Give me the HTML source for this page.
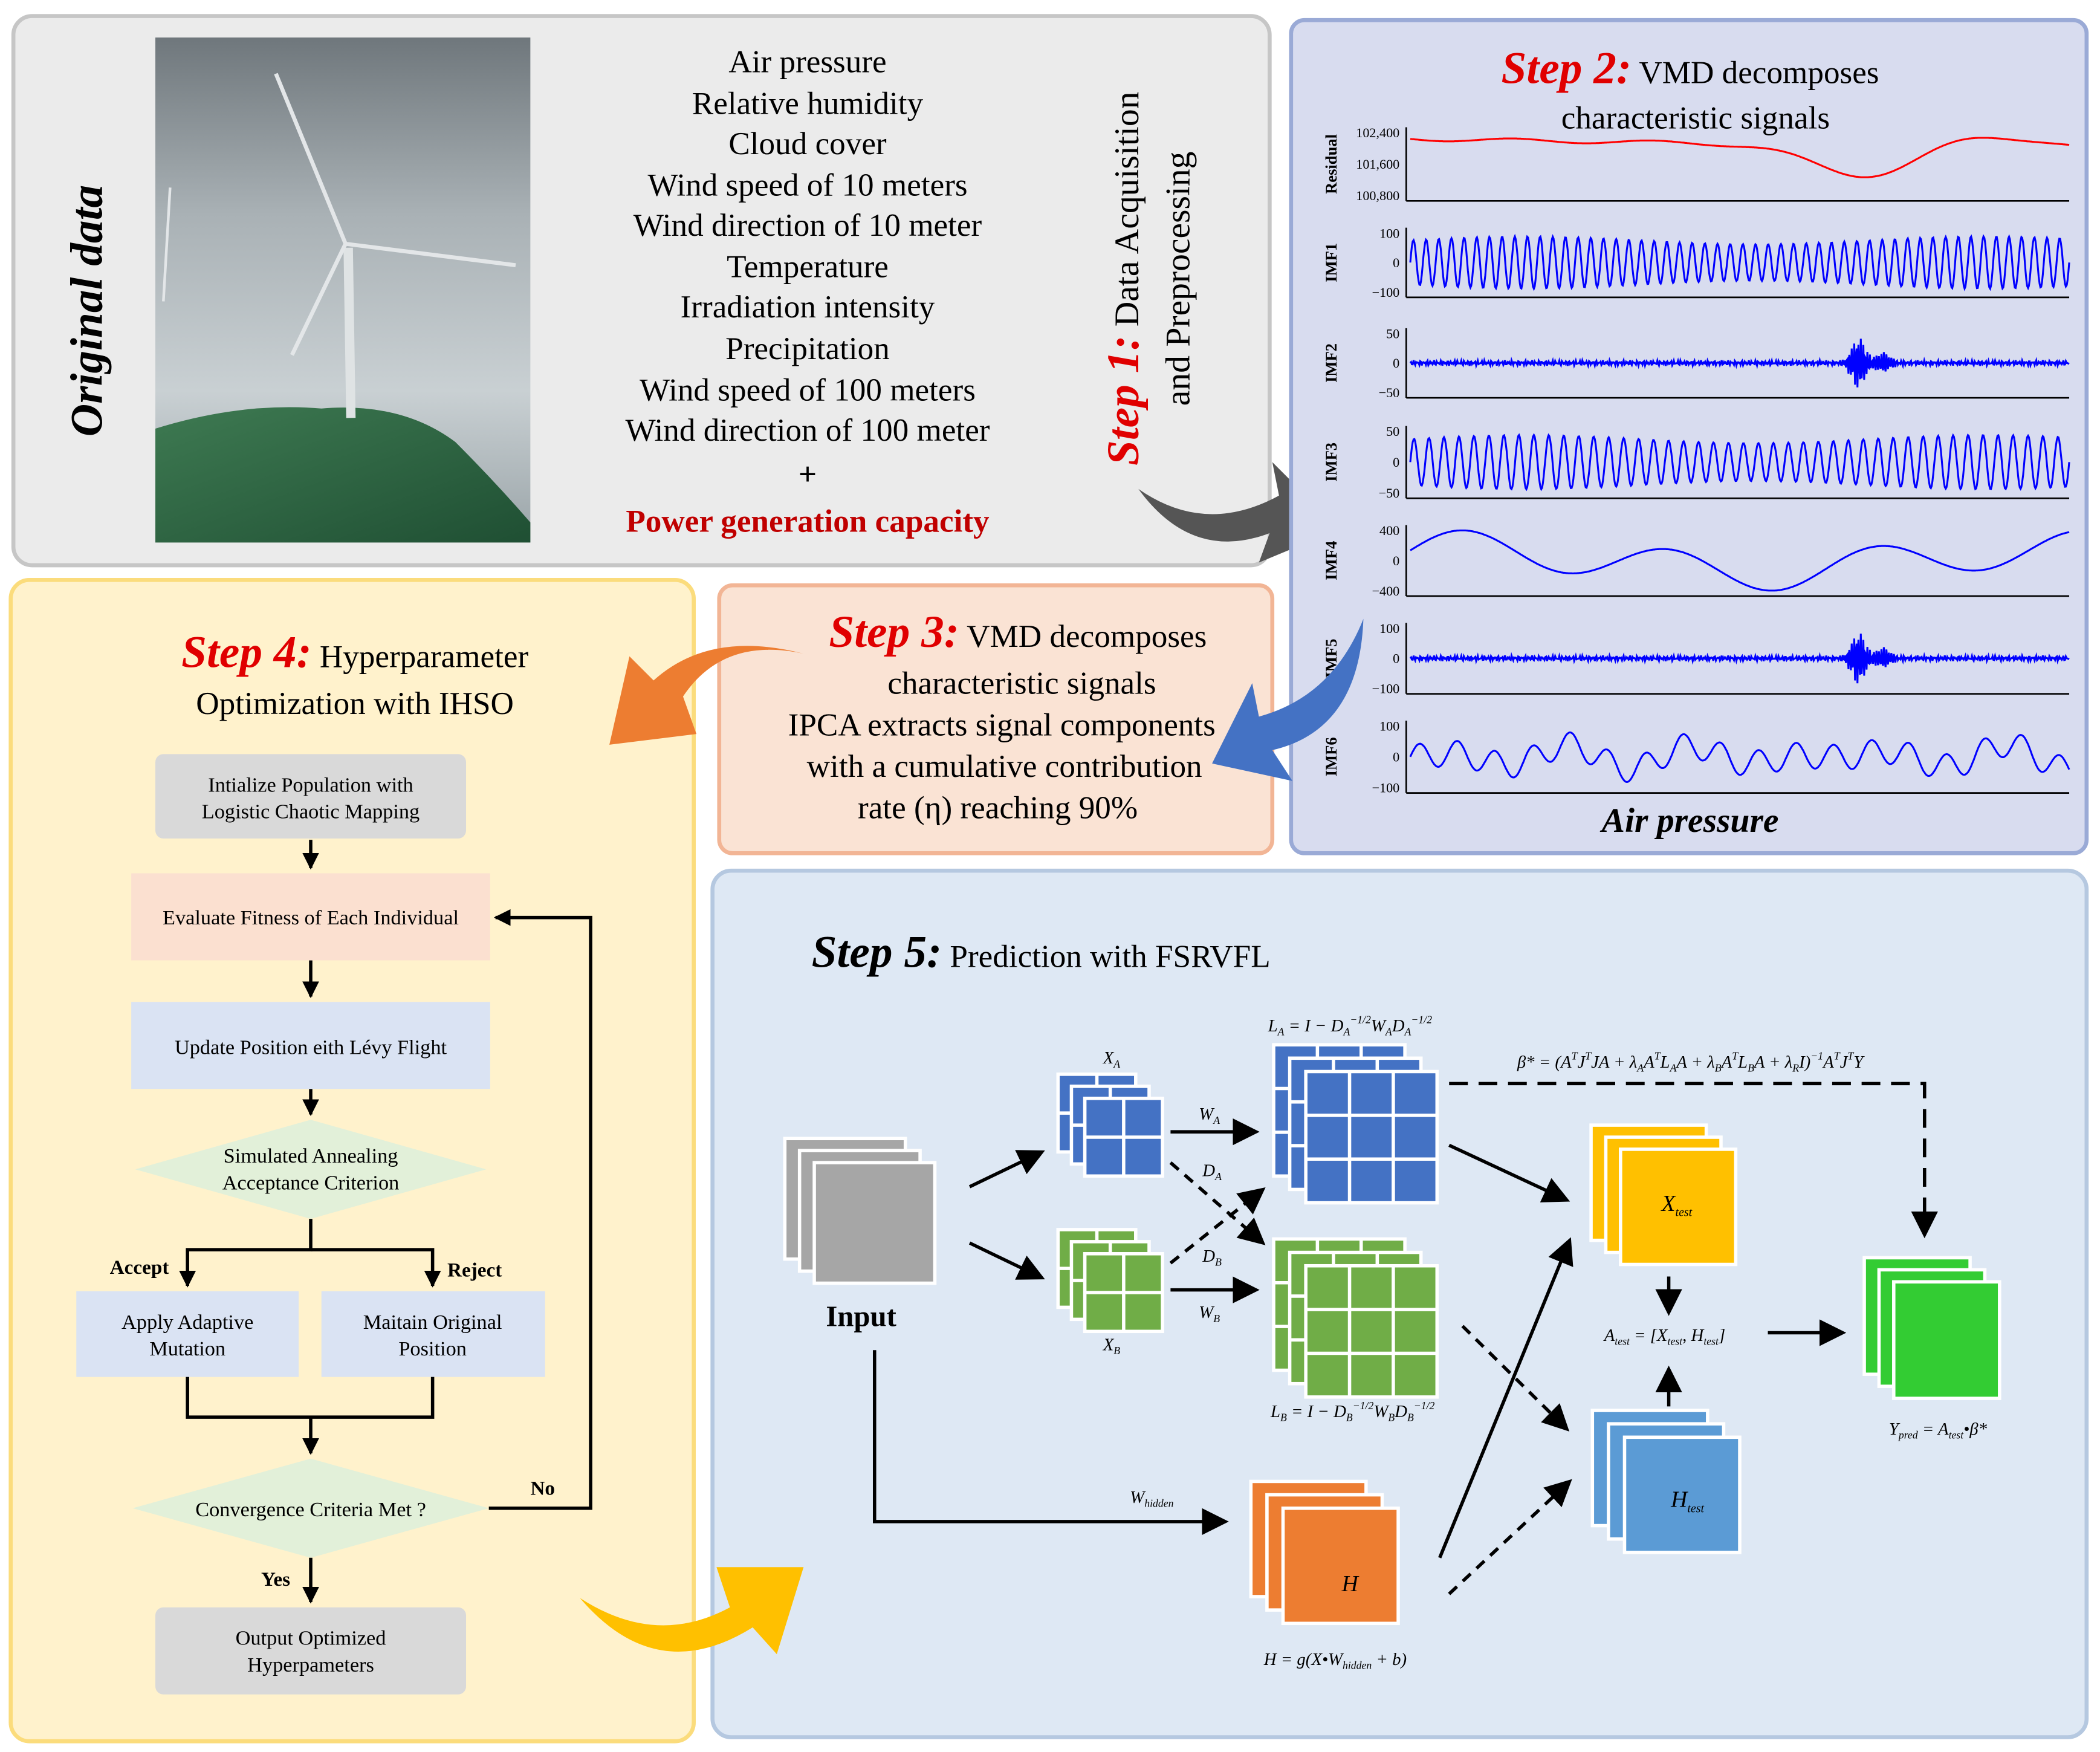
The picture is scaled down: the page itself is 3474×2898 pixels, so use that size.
<!DOCTYPE html>
<html><head><meta charset="utf-8"><style>
html,body{margin:0;padding:0;background:#fff}
svg{display:block}
text{font-family:"Liberation Serif",serif}
</style></head><body>
<svg id="s" xmlns="http://www.w3.org/2000/svg" width="3474" height="2898" viewBox="0 0 1568 1308">
<defs>
<marker id="ah" markerWidth="8" markerHeight="8" refX="7" refY="4" orient="auto" markerUnits="strokeWidth"><path d="M0,0 L8,4 L0,8 z" fill="#000"/></marker>
<marker id="ah2" markerWidth="5" markerHeight="5" refX="4.5" refY="2.5" orient="auto" markerUnits="strokeWidth"><path d="M0,0 L5,2.5 L0,5 z" fill="#000"/></marker>
<linearGradient id="sky" x1="0" y1="0" x2="0" y2="1"><stop offset="0" stop-color="#6f777c"/><stop offset="0.35" stop-color="#a9b1b5"/><stop offset="0.7" stop-color="#c9d0d3"/><stop offset="1" stop-color="#9aa4a8"/></linearGradient>
<linearGradient id="hill" x1="0" y1="0" x2="1" y2="1"><stop offset="0" stop-color="#3e7a52"/><stop offset="1" stop-color="#1f4f33"/></linearGradient>
</defs>
<rect x="10" y="12" width="938" height="410" rx="14" fill="#ebebeb" stroke="#c6c6c6" stroke-width="3"/>
<rect x="116" y="28" width="280" height="377" fill="url(#sky)"/>
<path d="M116,320 Q180,300 240,305 Q300,300 340,330 Q370,360 396,390 L396,405 L116,405 Z" fill="url(#hill)"/>
<line x1="260" y1="185" x2="262" y2="312" stroke="#dfe3e4" stroke-width="7"/>
<line x1="258" y1="182" x2="206" y2="55" stroke="#e3e6e8" stroke-width="3"/>
<line x1="258" y1="182" x2="385" y2="198" stroke="#e3e6e8" stroke-width="3"/>
<line x1="258" y1="182" x2="218" y2="265" stroke="#e3e6e8" stroke-width="3"/>
<line x1="127" y1="140" x2="122" y2="225" stroke="#e3e6e8" stroke-width="2"/>
<text transform="translate(76,232) rotate(-90)" text-anchor="middle" font-size="34" font-style="italic" font-weight="bold">Original data</text>
<g font-size="24" text-anchor="middle">
<text x="603" y="54">Air pressure</text>
<text x="603" y="85">Relative humidity</text>
<text x="603" y="115">Cloud cover</text>
<text x="603" y="146">Wind speed of 10 meters</text>
<text x="603" y="176">Wind direction of 10 meter</text>
<text x="603" y="207">Temperature</text>
<text x="603" y="237">Irradiation intensity</text>
<text x="603" y="268">Precipitation</text>
<text x="603" y="299">Wind speed of 100 meters</text>
<text x="603" y="329">Wind direction of 100 meter</text>
<text x="603" y="362" font-weight="bold">+</text>
<text x="603" y="397" font-weight="bold" fill="#c00000">Power generation capacity</text>
</g>
<text transform="translate(850,208) rotate(-90)" text-anchor="middle" font-size="26"><tspan font-size="34" font-style="italic" font-weight="bold" fill="#e00000">Step 1:</tspan> Data Acquisition</text>
<text transform="translate(888,208) rotate(-90)" text-anchor="middle" font-size="26">and Preprocessing</text>
<path d="M850,365 Q900,400 955,370 L950,345 L1000,395 L940,420 L948,398 Q890,420 850,365 Z" fill="#555"/>
<rect x="964" y="15" width="594" height="622" rx="10" fill="#d8dcef" stroke="#9aaad6" stroke-width="3"/>
<text x="1262" y="62" text-anchor="middle" font-size="24"><tspan font-size="34" font-style="italic" font-weight="bold" fill="#e00000">Step 2:</tspan> VMD decomposes</text>
<text x="1266" y="96" text-anchor="middle" font-size="24">characteristic signals</text>
<g id="charts"></g>
<text x="1262" y="621" text-anchor="middle" font-size="26" font-style="italic" font-weight="bold">Air pressure</text>
<rect x="537" y="437" width="413" height="200" rx="10" fill="#fae3d4" stroke="#f2b595" stroke-width="3"/>
<text x="760" y="483" text-anchor="middle" font-size="24"><tspan font-size="34" font-style="italic" font-weight="bold" fill="#e00000">Step 3:</tspan> VMD decomposes</text>
<g font-size="24" text-anchor="middle">
<text x="763" y="518">characteristic signals</text>
<text x="748" y="549">IPCA extracts signal components</text>
<text x="750" y="580">with a cumulative contribution</text>
<text x="745" y="611">rate (η) reaching 90%</text>
</g>
<rect x="8" y="433" width="510" height="867" rx="14" fill="#fff2cc" stroke="#fbdc7c" stroke-width="3"/>
<text x="265" y="498" text-anchor="middle" font-size="24"><tspan font-size="34" font-style="italic" font-weight="bold" fill="#e00000">Step 4:</tspan> Hyperparameter</text>
<text x="265" y="533" text-anchor="middle" font-size="24">Optimization with IHSO</text>
<g font-size="15.5" text-anchor="middle">
<rect x="116" y="563" width="232" height="63" rx="6" fill="#d9d9d9"/>
<text x="232" y="591">Intialize Population with</text><text x="232" y="611">Logistic Chaotic Mapping</text>
<rect x="98" y="652" width="268" height="65" fill="#fbe0d0"/>
<text x="232" y="690">Evaluate Fitness of Each Individual</text>
<rect x="98" y="748" width="268" height="65" fill="#dae3f3"/>
<text x="232" y="787">Update Position eith Lévy Flight</text>
<polygon points="232,836 363,873 232,910 101,873" fill="#e2f0d9"/>
<text x="232" y="868">Simulated Annealing</text><text x="232" y="888">Acceptance Criterion</text>
<rect x="57" y="964" width="166" height="64" fill="#dae3f3"/>
<text x="140" y="992">Apply Adaptive</text><text x="140" y="1012">Mutation</text>
<rect x="240" y="964" width="167" height="64" fill="#dae3f3"/>
<text x="323" y="992">Maitain Original</text><text x="323" y="1012">Position</text>
<polygon points="232,1089 365,1126 232,1163 99,1126" fill="#e2f0d9"/>
<text x="232" y="1132">Convergence Criteria Met ?</text>
<rect x="116" y="1200" width="232" height="65" rx="6" fill="#d9d9d9"/>
<text x="232" y="1228">Output Optimized</text><text x="232" y="1248">Hyperpameters</text>
</g>
<g stroke="#000" stroke-width="2.5" fill="none">
<line x1="232" y1="627" x2="232" y2="648" marker-end="url(#ah2)"/>
<line x1="232" y1="717" x2="232" y2="744" marker-end="url(#ah2)"/>
<line x1="232" y1="813" x2="232" y2="832" marker-end="url(#ah2)"/>
<polyline points="232,910 232,933 140,933 140,960" marker-end="url(#ah2)"/>
<polyline points="232,933 323,933 323,960" marker-end="url(#ah2)"/>
<polyline points="140,1028 140,1058 323,1058 323,1028"/>
<line x1="232" y1="1058" x2="232" y2="1085" marker-end="url(#ah2)"/>
<line x1="232" y1="1163" x2="232" y2="1196" marker-end="url(#ah2)"/>
<polyline points="365,1126 441,1126 441,685 370,685" marker-end="url(#ah2)"/>
</g>
<g font-size="15" font-weight="bold">
<text x="82" y="951">Accept</text><text x="334" y="953">Reject</text>
<text x="396" y="1116">No</text><text x="195" y="1184">Yes</text>
</g>
<rect x="532" y="650" width="1026" height="647" rx="14" fill="#dee8f4" stroke="#b5c8e0" stroke-width="3"/>
<text x="606" y="722" font-size="24"><tspan font-size="34" font-style="italic" font-weight="bold">Step 5:</tspan> Prediction with FSRVFL</text>
<g id="stacks"></g>
<text x="643" y="990" text-anchor="middle" font-size="22" font-weight="bold">Input</text>
<g font-size="13" font-style="italic" text-anchor="middle">
<text x="830" y="794">X<tspan font-size="8" dy="3">A</tspan></text>
<text x="830" y="1008">X<tspan font-size="8" dy="3">B</tspan></text>
<text x="903" y="836">W<tspan font-size="8" dy="3">A</tspan></text>
<text x="905" y="878">D<tspan font-size="8" dy="3">A</tspan></text>
<text x="905" y="942">D<tspan font-size="8" dy="3">B</tspan></text>
<text x="903" y="984">W<tspan font-size="8" dy="3">B</tspan></text>
<text x="1008" y="770">L<tspan font-size="8" dy="3">A</tspan><tspan dy="-3"> = I − D</tspan><tspan font-size="8" dy="3">A</tspan><tspan font-size="8" dy="-9">−1/2</tspan><tspan dy="6">W</tspan><tspan font-size="8" dy="3">A</tspan><tspan dy="-3">D</tspan><tspan font-size="8" dy="3">A</tspan><tspan font-size="8" dy="-9">−1/2</tspan></text>
<text x="1010" y="1058">L<tspan font-size="8" dy="3">B</tspan><tspan dy="-3"> = I − D</tspan><tspan font-size="8" dy="3">B</tspan><tspan font-size="8" dy="-9">−1/2</tspan><tspan dy="6">W</tspan><tspan font-size="8" dy="3">B</tspan><tspan dy="-3">D</tspan><tspan font-size="8" dy="3">B</tspan><tspan font-size="8" dy="-9">−1/2</tspan></text>
<text x="1262" y="797">β* = (A<tspan font-size="8" dy="-6">T</tspan><tspan dy="6">J</tspan><tspan font-size="8" dy="-6">T</tspan><tspan dy="6">JA + λ</tspan><tspan font-size="8" dy="3">A</tspan><tspan dy="-3">A</tspan><tspan font-size="8" dy="-6">T</tspan><tspan dy="6">L</tspan><tspan font-size="8" dy="3">A</tspan><tspan dy="-3">A + λ</tspan><tspan font-size="8" dy="3">B</tspan><tspan dy="-3">A</tspan><tspan font-size="8" dy="-6">T</tspan><tspan dy="6">L</tspan><tspan font-size="8" dy="3">B</tspan><tspan dy="-3">A + λ</tspan><tspan font-size="8" dy="3">R</tspan><tspan dy="-3">I)</tspan><tspan font-size="8" dy="-6">−1</tspan><tspan dy="6">A</tspan><tspan font-size="8" dy="-6">T</tspan><tspan dy="6">J</tspan><tspan font-size="8" dy="-6">T</tspan><tspan dy="6">Y</tspan></text>
<text x="1243" y="1001">A<tspan font-size="8" dy="3">test</tspan><tspan dy="-3"> = [X</tspan><tspan font-size="8" dy="3">test</tspan><tspan dy="-3">, H</tspan><tspan font-size="8" dy="3">test</tspan><tspan dy="-3">]</tspan></text>
<text x="1447" y="1071">Y<tspan font-size="8" dy="3">pred</tspan><tspan dy="-3"> = A</tspan><tspan font-size="8" dy="3">test</tspan><tspan dy="-3">•β*</tspan></text>
<text x="860" y="1122">W<tspan font-size="8" dy="3">hidden</tspan></text>
<text x="997" y="1243">H = g(X•W<tspan font-size="8" dy="3">hidden</tspan><tspan dy="-3"> + b)</tspan></text>
<text x="1252" y="904" font-size="17">X<tspan font-size="9" dy="4">test</tspan></text>
<text x="1260" y="1125" font-size="17">H<tspan font-size="9" dy="4">test</tspan></text>
<text x="1008" y="1188" font-size="17">H</text>
</g>
<g stroke="#000" stroke-width="2.5" fill="none">
<line x1="724" y1="886" x2="778" y2="860" marker-end="url(#ah)"/>
<line x1="724" y1="928" x2="778" y2="954" marker-end="url(#ah)"/>
<line x1="874" y1="845" x2="938" y2="845" marker-end="url(#ah)"/>
<line x1="874" y1="963" x2="938" y2="963" marker-end="url(#ah)"/>
<line x1="874" y1="868" x2="943" y2="928" stroke-dasharray="8,6" marker-end="url(#ah)"/>
<line x1="874" y1="943" x2="943" y2="888" stroke-dasharray="8,6" marker-end="url(#ah)"/>
<line x1="1082" y1="855" x2="1170" y2="896" marker-end="url(#ah)"/>
<line x1="1092" y1="990" x2="1170" y2="1067" stroke-dasharray="8,6" marker-end="url(#ah)"/>
<line x1="1075" y1="1163" x2="1172" y2="926" marker-end="url(#ah)"/>
<line x1="1082" y1="1190" x2="1172" y2="1106" stroke-dasharray="8,6" marker-end="url(#ah)"/>
<polyline points="1082,809 1437,809 1437,922" stroke-dasharray="14,8" marker-end="url(#ah)"/>
<line x1="1246" y1="953" x2="1246" y2="980" marker-end="url(#ah)"/>
<line x1="1246" y1="1050" x2="1246" y2="1022" marker-end="url(#ah)"/>
<line x1="1320" y1="995" x2="1376" y2="995" marker-end="url(#ah)"/>
<polyline points="653,1008 653,1136 915,1136" marker-end="url(#ah)"/>
</g>
<path d="M600,488 Q540,475 510,520 L520,548 L455,556 L470,490 L488,508 Q530,470 600,488 Z" fill="#ed7d31"/>
<path d="M1018,462 Q1015,545 950,560 L965,583 L905,570 L935,510 L940,535 Q995,520 1018,462 Z" fill="#4472c4"/>
<path d="M433,1193 Q490,1230 545,1200 L535,1170 L600,1170 L580,1235 L562,1215 Q490,1260 433,1193 Z" fill="#ffc000"/>
</svg>
<script>
var NS="http://www.w3.org/2000/svg";
function el(p,t,a){var e=document.createElementNS(NS,t);for(var k in a)e.setAttribute(k,a[k]);p.appendChild(e);return e;}
var ch=document.getElementById("charts");
var rows=[["Residual",95,150,["102,400","101,600","100,800"],"#ff0000",0],
["IMF1",170,222,["100","0","−100"],"#0000ff",1],
["IMF2",245,297,["50","0","−50"],"#0000ff",2],
["IMF3",318,372,["50","0","−50"],"#0000ff",3],
["IMF4",392,445,["400","0","−400"],"#0000ff",4],
["IMF5",465,518,["100","0","−100"],"#0000ff",5],
["IMF6",538,592,["100","0","−100"],"#0000ff",6]];
var x0=1050,x1=1545;
rows.forEach(function(r){
 var yt=r[1],yb=r[2],ym=(yt+yb)/2,h=(yb-yt)/2;
 el(ch,"line",{x1:x0,y1:yt,x2:x0,y2:yb,stroke:"#000","stroke-width":1.2});
 el(ch,"line",{x1:x0,y1:yb,x2:x1,y2:yb,stroke:"#000","stroke-width":1.2});
 var t=el(ch,"text",{transform:"translate(998,"+ym+") rotate(-90)","text-anchor":"middle","font-size":12,"font-weight":"bold"});t.textContent=r[0];
 [yt+4,ym,yb-4].forEach(function(y,i){var tt=el(ch,"text",{x:1045,y:y+3.5,"text-anchor":"end","font-size":10});tt.textContent=r[3][i];});
 var d="",k=r[5];
 for(var i=0;i<=800;i++){var x=x0+3+(x1-x0-3)*i/800,u=i/800,y;
  if(k==0)y=yt+4+ (h*2-8)*(0.1+0.15*u+0.5*Math.exp(-Math.pow((u-0.7)/0.12,2))-0.25*Math.exp(-Math.pow((u-0.85)/0.1,2))+0.03*Math.sin(u*30));
  else if(k==1||k==3)y=ym-h*0.75*Math.sin(u*Math.PI*2*(k==1?52:44))*(0.85+0.15*Math.sin(u*9));
  else if(k==2||k==5){var a=0.08*Math.sin(i*1.9)*Math.sin(i*0.37)+0.7*Math.exp(-Math.pow((u-0.68)/0.015,2))*Math.sin(i*2.3)+0.3*Math.exp(-Math.pow((u-0.72)/0.015,2))*Math.sin(i*2.1);y=ym-h*a;}
  else if(k==4)y=ym-h*0.85*(0.6*Math.sin(u*20)+0.4*Math.sin(u*7+1));
  else y=ym-h*0.7*(Math.sin(u*110)*0.5+0.5*Math.sin(u*33)*Math.sin(u*5));
  d+=(i?"L":"M")+x.toFixed(1)+","+y.toFixed(1);}
 el(ch,"path",{d:d,fill:"none",stroke:r[4],"stroke-width":1.4});
});
var st=document.getElementById("stacks");
function stack(x,y,w,h,dx,dy,col,gx,gy){
 for(var j=0;j<3;j++){var X=x+dx*j,Y=y+dy*j;
  el(st,"rect",{x:X,y:Y,width:w,height:h,fill:col,stroke:"#fff","stroke-width":2.5});
  for(var a=1;a<gx;a++)el(st,"line",{x1:X+w*a/gx,y1:Y,x2:X+w*a/gx,y2:Y+h,stroke:"#fff","stroke-width":2.5});
  for(var b=1;b<gy;b++)el(st,"line",{x1:X,y1:Y+h*b/gy,x2:X+w,y2:Y+h*b/gy,stroke:"#fff","stroke-width":2.5});}
}
stack(586,850,90,90,11,9,"#a6a6a6",1,1);
stack(790,802,58,58,10,9,"#4472c4",2,2);
stack(790,918,58,58,10,9,"#70ad47",2,2);
stack(951,780,98,98,12,10,"#4472c4",3,3);
stack(951,925,98,98,12,10,"#70ad47",3,3);
stack(1188,840,86,86,11,9,"#ffc000",1,1);
stack(1189,1053,86,86,12,10,"#5b9bd5",1,1);
stack(934,1106,86,86,12,10,"#ed7d31",1,1);
stack(1392,939,79,87,11,9,"#33cc33",1,1);
</script>
</body></html>
